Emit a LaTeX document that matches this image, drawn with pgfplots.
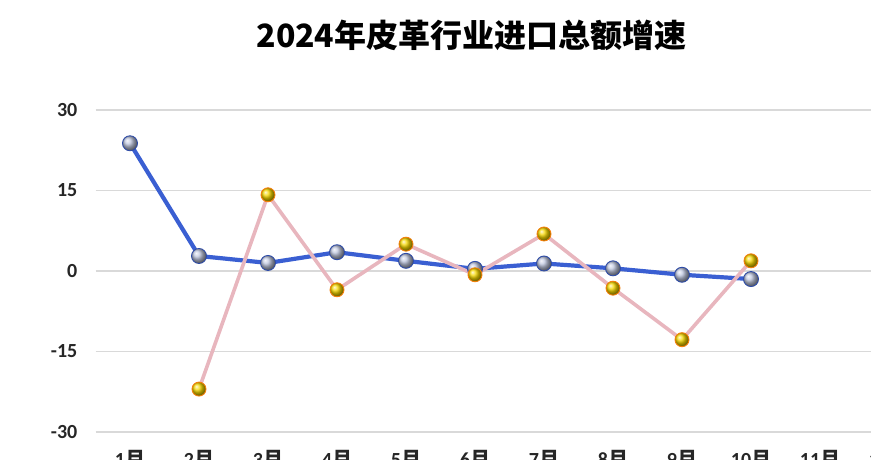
\documentclass[border=0pt]{standalone}
\usepackage{fontspec}
\setmainfont{Carlito}
\newfontfamily\cjk{Noto Sans CJK SC}
\usepackage{pgfplots}
\pgfplotsset{compat=1.18}
\definecolor{gridc}{RGB}{217,217,217}
\definecolor{blueline}{RGB}{58,95,210}
\definecolor{pinkline}{RGB}{232,182,190}
\definecolor{blueball}{RGB}{190,198,222}
\definecolor{goldball}{RGB}{245,215,0}
\newcommand\m[1]{#1{\cjk\bfseries 月}}
\begin{document}
\begin{tikzpicture}
\begin{scope}
\clip (0,0) rectangle (871pt,459pt);
\begin{axis}[
  at={(95.5pt,27pt)}, anchor=south west,
  scale only axis, width=828pt, height=322pt,
  xmin=0.5, xmax=12.5, ymin=-30, ymax=30,
  axis line style={draw=none}, major tick length=0pt,
  ytick={-30,-15,0,15,30},
  ymajorgrids, grid style={gridc, line width=1.5pt},
  xtick={1,...,12},
  xticklabels={\m{1},\m{2},\m{3},\m{4},\m{5},\m{6},\m{7},\m{8},\m{9},\m{10},\m{11},\m{12}},
  /pgf/number format/assume math mode=true,
  tick label style={font=\fontsize{20}{24}\selectfont\bfseries, text=black!85},
  yticklabel style={anchor=east, inner sep=0pt, xshift=-18pt},
  xticklabel style={anchor=north, inner sep=0pt, yshift=-18pt},
]
\addplot[blueline, line width=4.2pt, mark=ball, mark size=7.5pt, mark options={ball color=blueball, draw=blueline!80!black, line width=0.9pt}]
  coordinates {(1,23.8) (2,2.8) (3,1.5) (4,3.5) (5,1.9) (6,0.4) (7,1.4) (8,0.5) (9,-0.7) (10,-1.5)};
\addplot[pinkline, line width=3.6pt, mark=ball, mark size=7pt, mark options={ball color=goldball, draw=orange!85!brown, line width=0.9pt}]
  coordinates {(2,-22.0) (3,14.2) (4,-3.5) (5,5.0) (6,-0.7) (7,6.9) (8,-3.2) (9,-12.8) (10,1.9)};
\end{axis}
\node[font=\cjk\bfseries\fontsize{32}{38}\selectfont, text=black] at (471.5pt,424pt) {2024年皮革行业进口总额增速};
\end{scope}
\pgfresetboundingbox
\path (0,0) rectangle (871pt,459pt);
\end{tikzpicture}
\end{document}
